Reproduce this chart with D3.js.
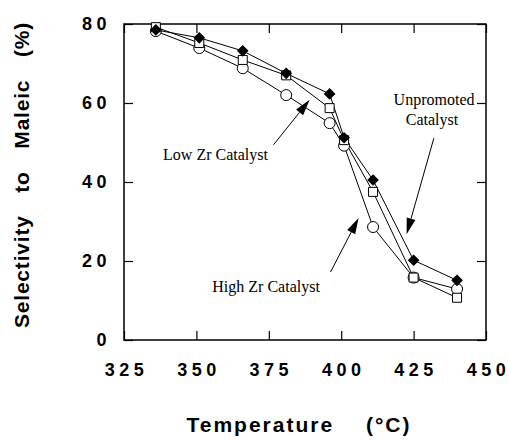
<!DOCTYPE html>
<html>
<head>
<meta charset="utf-8">
<title>Selectivity to Maleic</title>
<script src="https://d3js.org/d3.v7.min.js"></script>
<style>
  body { margin: 0; background: #fff; }
  .tick-label { font-family: "Liberation Sans", Arial, sans-serif; font-weight: bold; font-size: 18px; letter-spacing: 4.5px; fill: #000; }
  .title { font-family: "Liberation Sans", Arial, sans-serif; font-weight: bold; fill: #000; }
  .note { font-family: "Liberation Serif", "Times New Roman", serif; font-size: 16px; fill: #000; }
</style>
</head>
<body>
<div id="chart"></div>
<script>
// data
var temps      = [336, 351, 366, 381, 396, 401, 411, 425, 440];
var unpromoted = [78.5, 76.5, 73.2, 67.5, 62.3, 51.2, 40.5, 20.2, 15.1]; // filled diamonds
var lowZr      = [79.2, 75.2, 70.9, 67.0, 58.7, 50.6, 37.5, 15.8, 10.7]; // open squares
var highZr     = [78.2, 73.9, 68.8, 62.0, 54.9, 49.2, 28.6, 15.8, 12.9]; // open circles
var xTicks = [325, 350, 375, 400, 425, 450];
var yTicks = [0, 20, 40, 60, 80];

// annotations (data coordinates)
var notes = [
  {text: "Low Zr Catalyst",  x: 338.5, y: 45.6},
  {text: "High Zr Catalyst", x: 355.5, y: 12.2},
  {text: "Unpromoted",       x: 418.1, y: 59.5},
  {text: "Catalyst",         x: 422.3, y: 54.4}
];
var arrows = [
  {x1: 376.6, y1: 49.4, x2: 389.1, y2: 60.8},
  {x1: 396.3, y1: 17.2, x2: 406.0, y2: 30.9},
  {x1: 432.0, y1: 51.1, x2: 422.6, y2: 26.8}
];

var margin = {top: 24, right: 23, bottom: 101, left: 124},
    width = 509 - margin.left - margin.right,
    height = 441 - margin.top - margin.bottom;

var svg = d3.select("#chart").append("svg")
    .attr("width", 509).attr("height", 441)
  .append("g")
    .attr("transform", "translate(" + margin.left + "," + margin.top + ")");

var x = d3.scaleLinear().domain([325, 450]).range([0, width]);
var y = d3.scaleLinear().domain([0, 80]).range([height, 0]);

// axes, ticks pointing inward
var xAxis = svg.append("g")
    .attr("transform", "translate(0," + height + ")")
    .call(d3.axisBottom(x).tickValues(xTicks).tickSizeInner(-9).tickSizeOuter(0).tickPadding(23));
var yAxis = svg.append("g")
    .call(d3.axisLeft(y).tickValues(yTicks).tickSizeInner(-9).tickSizeOuter(0).tickPadding(13));
svg.append("g")
    .call(d3.axisTop(x).tickValues(xTicks).tickSizeInner(-9).tickSizeOuter(0).tickFormat(""));
svg.append("g")
    .attr("transform", "translate(" + width + ",0)")
    .call(d3.axisRight(y).tickValues(yTicks).tickSizeInner(-9).tickSizeOuter(0).tickFormat(""));

svg.selectAll(".domain").remove();
svg.selectAll(".tick line").attr("stroke", "#000").attr("stroke-width", 1.2);
svg.selectAll(".tick text").attr("class", "tick-label").attr("font-size", null).attr("font-family", null);
xAxis.selectAll(".tick text").attr("dx", "2px");

// frame
svg.append("rect")
    .attr("width", width).attr("height", height)
    .attr("fill", "none").attr("stroke", "#000").attr("stroke-width", 1.5);

// series
var series = [
  {values: highZr, shape: "circle"},
  {values: lowZr, shape: "square"},
  {values: unpromoted, shape: "diamond"}
];

var line = d3.line()
    .x(function(d) { return x(d[0]); })
    .y(function(d) { return y(d[1]); });

series.forEach(function(s) {
  s.pts = temps.map(function(t, i) { return [t, s.values[i]]; });
  svg.append("path")
      .datum(s.pts)
      .attr("fill", "none")
      .attr("stroke", "#000")
      .attr("stroke-width", 1)
      .attr("d", line);
});

series.forEach(function(s) {
  var g = svg.append("g");
  if (s.shape === "circle") {
    g.selectAll("circle").data(s.pts).enter().append("circle")
        .attr("cx", function(d) { return x(d[0]); })
        .attr("cy", function(d) { return y(d[1]); })
        .attr("r", 5.5)
        .attr("fill", "#fff").attr("stroke", "#000").attr("stroke-width", 1);
  } else if (s.shape === "square") {
    g.selectAll("path").data(s.pts).enter().append("path")
        .attr("d", d3.symbol().type(d3.symbolSquare).size(81))
        .attr("transform", function(d) { return "translate(" + x(d[0]) + "," + y(d[1]) + ")"; })
        .attr("fill", "#fff").attr("stroke", "#000").attr("stroke-width", 1);
  } else {
    g.selectAll("path").data(s.pts).enter().append("path")
        .attr("d", d3.symbol().type(d3.symbolSquare).size(52))
        .attr("transform", function(d) { return "translate(" + x(d[0]) + "," + y(d[1]) + ") rotate(45)"; })
        .attr("fill", "#000").attr("stroke", "#000").attr("stroke-width", 1);
  }
});

// annotations
svg.selectAll(".note").data(notes).enter().append("text")
    .attr("class", "note")
    .attr("x", function(d) { return x(d.x); })
    .attr("y", function(d) { return y(d.y); })
    .text(function(d) { return d.text; });

arrows.forEach(function(a) {
  var x1 = x(a.x1), y1 = y(a.y1), x2 = x(a.x2), y2 = y(a.y2);
  var ang = Math.atan2(y2 - y1, x2 - x1);
  var len = 16, hw = 4.5;
  var bx = x2 - len * Math.cos(ang), by = y2 - len * Math.sin(ang);
  svg.append("line")
      .attr("x1", x1).attr("y1", y1).attr("x2", bx).attr("y2", by)
      .attr("stroke", "#000").attr("stroke-width", 1);
  svg.append("path")
      .attr("d", "M" + x2 + "," + y2 +
                 "L" + (bx - hw * Math.sin(ang)) + "," + (by + hw * Math.cos(ang)) +
                 "L" + (bx + hw * Math.sin(ang)) + "," + (by - hw * Math.cos(ang)) + "Z")
      .attr("fill", "#000");
});

// axis titles
svg.append("text")
    .attr("class", "title")
    .attr("x", width / 2 - 6).attr("y", height + 92)
    .attr("text-anchor", "middle")
    .style("font-size", "21px").style("letter-spacing", "2px").style("word-spacing", "24px")
    .text("Temperature (°C)");

svg.append("text")
    .attr("class", "title")
    .attr("transform", "translate(" + (29 - margin.left) + "," + (175 - margin.top) + ") rotate(-90)")
    .attr("text-anchor", "middle")
    .style("font-size", "21px").style("letter-spacing", "0.8px").style("word-spacing", "16px")
    .text("Selectivity to Maleic (%)");
</script>
</body>
</html>
